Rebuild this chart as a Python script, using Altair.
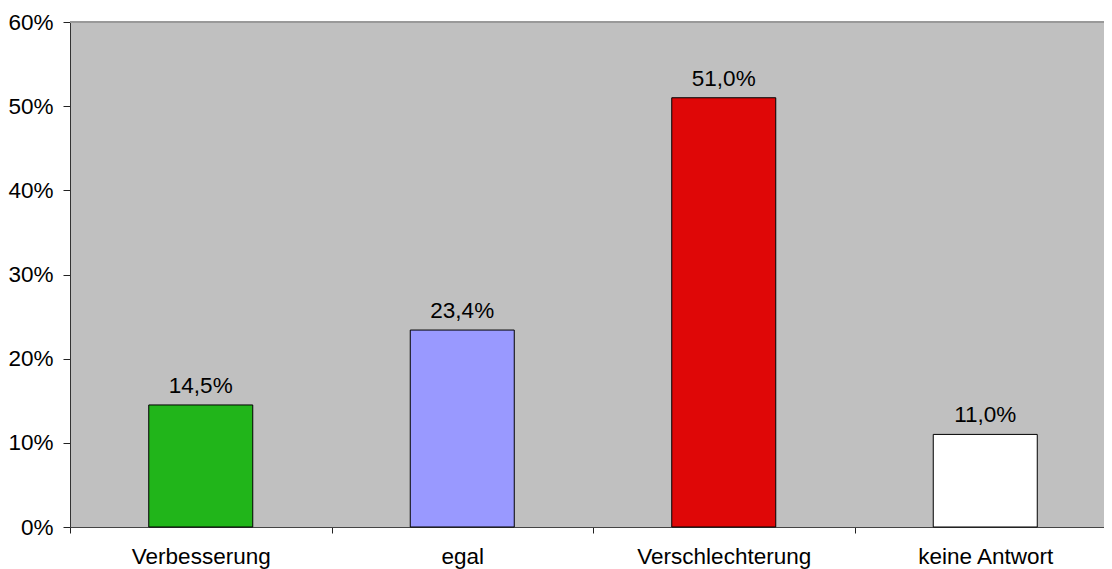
import altair as alt
import pandas as pd

categories = ["Verbesserung", "egal", "Verschlechterung", "keine Antwort"]
values = [14.5, 23.4, 51.0, 11.0]
colors = ["#21B51A", "#9999FF", "#DF0707", "#FFFFFF"]
y_ticks = [0, 10, 20, 30, 40, 50, 60]

df = pd.DataFrame({
    "cat": categories,
    "val": values,
    "label": [f"{v:.1f}".replace(".", ",") + "%" for v in values],
})

FONT = "Liberation Sans"
FS = 22.5

x = alt.X(
    "cat:N",
    sort=categories,
    scale=alt.Scale(range=[0, 1046], paddingInner=0, paddingOuter=0),
    axis=alt.Axis(
        title=None, labelAngle=0, tickBand="extent", tickSize=6,
        labelPadding=12, labelFont=FONT, labelFontSize=FS, labelColor="#000",
        domainColor="#444", tickColor="#222", labelBaseline="top",
    ),
)

y = alt.Y(
    "val:Q",
    scale=alt.Scale(domain=[0, 60], nice=False),
    axis=alt.Axis(
        title=None, values=y_ticks, labelExpr="datum.value + '%'",
        tickSize=7, labelPadding=10, labelFont=FONT, labelFontSize=FS,
        labelColor="#000", domainColor="#333", tickColor="#222",
        grid=False,
    ),
)

top_border = alt.Chart(df).mark_rule(color="#999999", strokeWidth=2).encode(
    y=alt.datum(60)
)

bars = alt.Chart(df).mark_bar(size=104, stroke="#000", strokeWidth=1).encode(
    x=x,
    y=y,
    color=alt.Color("cat:N", sort=categories,
                    scale=alt.Scale(domain=categories, range=colors), legend=None),
)

texts = alt.Chart(df).mark_text(
    baseline="alphabetic", dy=-12, font=FONT, fontSize=FS, color="#000"
).encode(
    x=alt.X("cat:N", sort=categories),
    y="val:Q",
    text="label:N",
)

chart = (
    alt.layer(bars, top_border, texts)
    .properties(
        width=1034, height=505,
        autosize=alt.AutoSizeParams(type="none"),
        padding={"left": 62, "top": 14, "right": 0, "bottom": 42},
    )
    .configure_view(fill="#C0C0C0", stroke=None)
)

chart.save("out.html", embed_options={"renderer": "svg", "actions": False})
